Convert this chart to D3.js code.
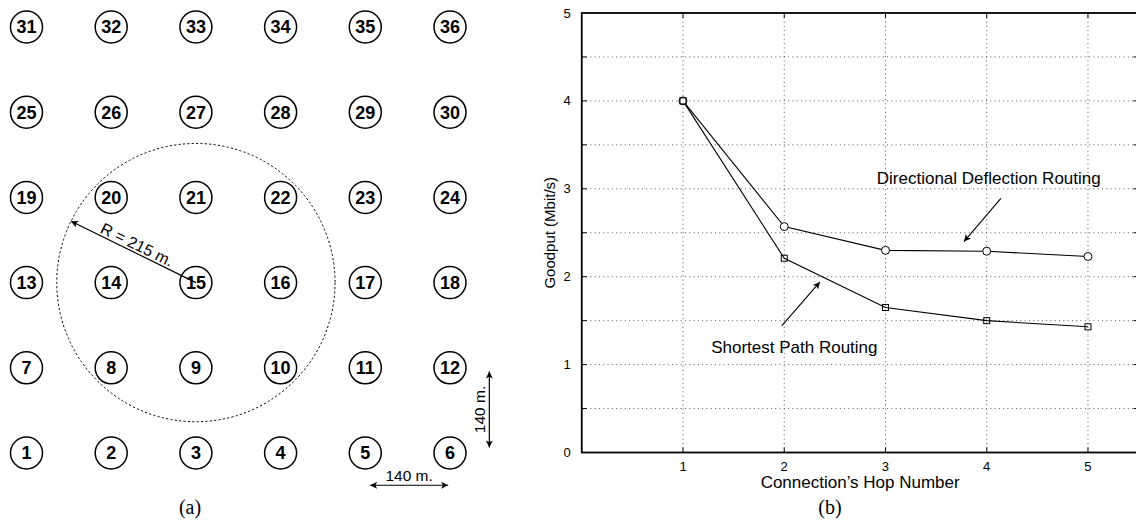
<!DOCTYPE html>
<html>
<head>
<meta charset="utf-8">
<script src="https://cdn.jsdelivr.net/npm/d3@7"></script>
<style>
  body { margin: 0; background: #fff; }
  svg { display: block; }
  text { font-family: "Liberation Sans", Arial, Helvetica, sans-serif; fill: #000; }
</style>
</head>
<body>
<div id="figure"></div>
<script>
// ---------------------------------------------------------------
//  DATA
// ---------------------------------------------------------------

// (a) node grid, metres
const gridMeters = [0, 140, 280, 420, 560, 700];
const coverageCentreNode = 15;
const coverageRadiusLabel = "R = 215 m.";
const coverageRadiusDrawn = 230;      // radius as it is drawn in the picture (m)
const coverageArrowAngle = 206.2;     // degrees, arrow heads up-left
const spacingLabel = "140 m.";
const hSpacingArrow = { x: [568, 697], y: -53 };
const vSpacingArrow = { x: 765, y: [134, 9] };

// (b) goodput vs hop number
const hops = [1, 2, 3, 4, 5];
const ddrGoodput = [4.0, 2.57, 2.30, 2.29, 2.23];   // directional deflection (circles)
const sprGoodput = [4.0, 2.21, 1.65, 1.50, 1.43];   // shortest path (squares)
const yTickLabels = [0, 1, 2, 3, 4, 5];
const yGridValues = [0.5, 1, 1.5, 2, 2.5, 3, 3.5, 4, 4.5];
const xLabel = "Connection\u2019s Hop Number";
const yLabel = "Goodput (Mbit/s)";

const annotations = [
  { text: "Directional Deflection Routing", tx: 4.02, ty: 3.12, from: [4.14, 2.89], to: [3.775, 2.40] },
  { text: "Shortest Path Routing",          tx: 2.10, ty: 1.20, from: [1.975, 1.44], to: [2.353, 1.94] }
];

// ---------------------------------------------------------------
//  CONSTANTS
// ---------------------------------------------------------------
const TOTAL_WIDTH = 1136;
const TOTAL_HEIGHT = 525;

const NODE_RADIUS = 16;
const NODE_FONT = "bold 18px 'Liberation Sans', Arial, sans-serif";

const PLOT_LEFT = 581.75;
const PLOT_RIGHT = 1138.6;
const PLOT_TOP = 13;
const PLOT_BOTTOM = 452.5;
const TICK_LEN = 5;

const svg = d3.select("#figure").append("svg")
  .attr("width", TOTAL_WIDTH)
  .attr("height", TOTAL_HEIGHT);

svg.append("rect").attr("width", TOTAL_WIDTH).attr("height", TOTAL_HEIGHT).attr("fill", "#fff");

const defs = svg.append("defs");
defs.append("marker")
  .attr("id", "head")
  .attr("viewBox", "0 0 10 10")
  .attr("refX", 10).attr("refY", 5)
  .attr("markerWidth", 9).attr("markerHeight", 7)
  .attr("markerUnits", "userSpaceOnUse")
  .attr("orient", "auto-start-reverse")
  .append("path")
  .attr("d", "M0,0 L10,5 L0,10 L2.5,5 z")
  .attr("fill", "#000");

// ---------------------------------------------------------------
//  (a) NODE LAYOUT
// ---------------------------------------------------------------
const xM = d3.scaleLinear().domain([0, 700]).range([26.5, 450]);
const yM = d3.scaleLinear().domain([0, 700]).range([453, 27]);

const nodes = [];
gridMeters.forEach((ym, r) => {
  gridMeters.forEach((xm, c) => {
    nodes.push({ id: r * gridMeters.length + c + 1, xm: xm, ym: ym });
  });
});

const left = svg.append("g").attr("id", "panel_a");

const centre = nodes.find(d => d.id === coverageCentreNode);
const cx = xM(centre.xm), cy = yM(centre.ym);
const rPx = xM(coverageRadiusDrawn) - xM(0);

left.append("circle")
  .attr("cx", cx).attr("cy", cy).attr("r", rPx)
  .attr("fill", "none")
  .attr("stroke", "#000")
  .attr("stroke-width", 1)
  .attr("stroke-dasharray", "2.2,2.2");

const nodeG = left.selectAll("g.node")
  .data(nodes)
  .join("g")
  .attr("class", "node")
  .attr("transform", d => `translate(${xM(d.xm)},${yM(d.ym)})`);

nodeG.append("circle")
  .attr("r", NODE_RADIUS)
  .attr("fill", "#fff")
  .attr("stroke", "#000")
  .attr("stroke-width", 1.5);

nodeG.append("text")
  .attr("text-anchor", "middle")
  .attr("dy", "0.36em")
  .style("font", NODE_FONT)
  .text(d => d.id);

// radius arrow
const ang = coverageArrowAngle * Math.PI / 180;
const ex = cx + rPx * Math.cos(ang), ey = cy + rPx * Math.sin(ang);
left.append("line")
  .attr("x1", cx).attr("y1", cy).attr("x2", ex).attr("y2", ey)
  .attr("stroke", "#000").attr("stroke-width", 1.2)
  .attr("marker-end", "url(#head)");

left.append("text")
  .attr("transform", `translate(${(cx + ex) / 2},${(cy + ey) / 2}) rotate(${coverageArrowAngle - 180})`)
  .attr("y", -8)
  .attr("text-anchor", "middle")
  .attr("dominant-baseline", "central")
  .style("font-size", "16px")
  .text(coverageRadiusLabel);

// spacing arrows
left.append("line")
  .attr("x1", xM(hSpacingArrow.x[0])).attr("x2", xM(hSpacingArrow.x[1]))
  .attr("y1", yM(hSpacingArrow.y)).attr("y2", yM(hSpacingArrow.y))
  .attr("stroke", "#000").attr("stroke-width", 1.2)
  .attr("marker-start", "url(#head)").attr("marker-end", "url(#head)");

left.append("text")
  .attr("x", xM(d3.mean(hSpacingArrow.x)))
  .attr("y", yM(hSpacingArrow.y) - 10)
  .attr("text-anchor", "middle")
  .attr("dominant-baseline", "central")
  .style("font-size", "15.5px")
  .text(spacingLabel);

left.append("line")
  .attr("x1", xM(vSpacingArrow.x)).attr("x2", xM(vSpacingArrow.x))
  .attr("y1", yM(vSpacingArrow.y[0])).attr("y2", yM(vSpacingArrow.y[1]))
  .attr("stroke", "#000").attr("stroke-width", 1.2)
  .attr("marker-start", "url(#head)").attr("marker-end", "url(#head)");

left.append("text")
  .attr("transform", `translate(${xM(vSpacingArrow.x) - 10},${yM(d3.mean(vSpacingArrow.y))}) rotate(-90)`)
  .attr("text-anchor", "middle")
  .attr("dominant-baseline", "central")
  .style("font-size", "15.5px")
  .text(spacingLabel);

left.append("text")
  .attr("x", 190).attr("y", 507)
  .attr("text-anchor", "middle")
  .attr("dominant-baseline", "central")
  .style("font-family", "'Liberation Serif', 'DejaVu Serif', serif")
  .style("font-size", "20px")
  .text("(a)");

// ---------------------------------------------------------------
//  (b) GOODPUT CHART
// ---------------------------------------------------------------
const xScale = d3.scaleLinear().domain([0, 5.5]).range([PLOT_LEFT, PLOT_RIGHT]);
const yScale = d3.scaleLinear().domain([0, 5]).range([PLOT_BOTTOM, PLOT_TOP]);

const right = svg.append("g").attr("id", "panel_b");

// grid
right.append("g").selectAll("line")
  .data(yGridValues)
  .join("line")
  .attr("x1", PLOT_LEFT).attr("x2", PLOT_RIGHT)
  .attr("y1", d => yScale(d)).attr("y2", d => yScale(d))
  .attr("stroke", "#444").attr("stroke-width", 0.9)
  .attr("stroke-dasharray", "1,3.3");

right.append("g").selectAll("line")
  .data(hops)
  .join("line")
  .attr("x1", d => xScale(d)).attr("x2", d => xScale(d))
  .attr("y1", PLOT_TOP).attr("y2", PLOT_BOTTOM)
  .attr("stroke", "#444").attr("stroke-width", 0.9)
  .attr("stroke-dasharray", "1,3.3");

// inward ticks
const tickG = right.append("g").attr("stroke", "#000").attr("stroke-width", 1);
[PLOT_LEFT, PLOT_RIGHT].forEach((x0, i) => {
  tickG.selectAll(null)
    .data(yGridValues)
    .join("line")
    .attr("x1", x0).attr("x2", x0 + (i === 0 ? TICK_LEN : -TICK_LEN))
    .attr("y1", d => yScale(d)).attr("y2", d => yScale(d));
});
[PLOT_BOTTOM, PLOT_TOP].forEach((y0, i) => {
  tickG.selectAll(null)
    .data(hops)
    .join("line")
    .attr("x1", d => xScale(d)).attr("x2", d => xScale(d))
    .attr("y1", y0).attr("y2", y0 + (i === 0 ? -TICK_LEN : TICK_LEN));
});

// box
right.append("rect")
  .attr("x", PLOT_LEFT).attr("y", PLOT_TOP)
  .attr("width", PLOT_RIGHT - PLOT_LEFT).attr("height", PLOT_BOTTOM - PLOT_TOP)
  .attr("fill", "none").attr("stroke", "#000").attr("stroke-width", 1.8);

// tick labels
right.append("g").selectAll("text")
  .data(yTickLabels)
  .join("text")
  .attr("x", PLOT_LEFT - 11)
  .attr("y", d => yScale(d))
  .attr("text-anchor", "end")
  .attr("dominant-baseline", "central")
  .style("font-size", "13px")
  .text(d => d);

right.append("g").selectAll("text")
  .data(hops)
  .join("text")
  .attr("x", d => xScale(d))
  .attr("y", PLOT_BOTTOM + 13.5)
  .attr("text-anchor", "middle")
  .attr("dominant-baseline", "central")
  .style("font-size", "13px")
  .text(d => d);

right.append("text")
  .attr("x", (PLOT_LEFT + PLOT_RIGHT) / 2)
  .attr("y", PLOT_BOTTOM + 30)
  .attr("text-anchor", "middle")
  .attr("dominant-baseline", "central")
  .style("font-size", "17px")
  .text(xLabel);

right.append("text")
  .attr("transform", `translate(${PLOT_LEFT - 32},${(PLOT_TOP + PLOT_BOTTOM) / 2}) rotate(-90)`)
  .attr("text-anchor", "middle")
  .attr("dominant-baseline", "central")
  .style("font-size", "15px")
  .text(yLabel);

right.append("text")
  .attr("x", 830).attr("y", 507)
  .attr("text-anchor", "middle")
  .attr("dominant-baseline", "central")
  .style("font-family", "'Liberation Serif', 'DejaVu Serif', serif")
  .style("font-size", "20px")
  .text("(b)");

// series
const lineGen = d3.line()
  .x(d => xScale(d[0]))
  .y(d => yScale(d[1]));

const ddrPts = hops.map((h, i) => [h, ddrGoodput[i]]);
const sprPts = hops.map((h, i) => [h, sprGoodput[i]]);

[ddrPts, sprPts].forEach(pts => {
  right.append("path")
    .datum(pts)
    .attr("d", lineGen)
    .attr("fill", "none")
    .attr("stroke", "#000")
    .attr("stroke-width", 1.1);
});

right.append("g").selectAll("circle")
  .data(ddrPts)
  .join("circle")
  .attr("cx", d => xScale(d[0])).attr("cy", d => yScale(d[1]))
  .attr("r", 4)
  .attr("fill", "#fff").attr("stroke", "#000").attr("stroke-width", 1);

right.append("g").selectAll("rect")
  .data(sprPts)
  .join("rect")
  .attr("x", d => xScale(d[0]) - 3).attr("y", d => yScale(d[1]) - 3)
  .attr("width", 6).attr("height", 6)
  .attr("fill", "none").attr("stroke", "#000").attr("stroke-width", 1);

// annotations
const annG = right.append("g");
annotations.forEach(a => {
  annG.append("text")
    .attr("x", xScale(a.tx)).attr("y", yScale(a.ty))
    .attr("text-anchor", "middle")
    .attr("dominant-baseline", "central")
    .style("font-size", "17px")
    .text(a.text);
  annG.append("line")
    .attr("x1", xScale(a.from[0])).attr("y1", yScale(a.from[1]))
    .attr("x2", xScale(a.to[0])).attr("y2", yScale(a.to[1]))
    .attr("stroke", "#000").attr("stroke-width", 1.1)
    .attr("marker-end", "url(#head)");
});
</script>
</body>
</html>
